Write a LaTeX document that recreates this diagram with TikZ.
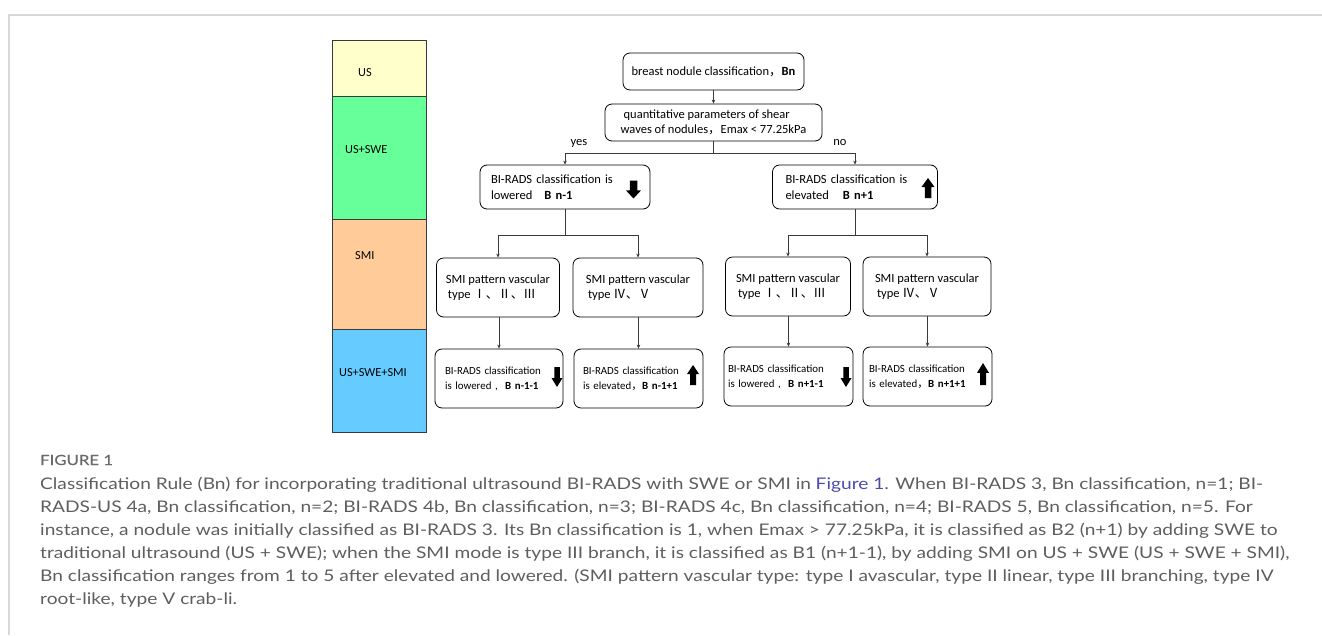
\documentclass[tikz,border=0pt]{standalone}
\usepackage{fontspec}
\setmainfont{Carlito}
\newfontfamily\cjk{Noto Sans CJK SC}
\newfontfamily\capfont{Lato}
\newfontfamily\figfont[FakeBold=0.35]{Lato}
\usetikzlibrary{arrows.meta}
\definecolor{bandus}{HTML}{FFFFCC}
\definecolor{bandswe}{HTML}{66FF99}
\definecolor{bandsmi}{HTML}{FFCC99}
\definecolor{bandall}{HTML}{66CCFF}
\definecolor{capgray}{HTML}{5E5E5E}
\definecolor{figgray}{HTML}{6A6A6A}
\definecolor{figblue}{HTML}{4B4BAA}
\definecolor{framegray}{HTML}{D8D8D8}
\definecolor{conngray}{HTML}{3A3A3A}
\newcommand\dnarrow[4]{% cx cy w h
  \fill (#1-#3*0.25,#2-#4*0.5) -- (#1+#3*0.25,#2-#4*0.5) -- (#1+#3*0.25,#2+#4*0.05)
   -- (#1+#3*0.5,#2+#4*0.05) -- (#1,#2+#4*0.5) -- (#1-#3*0.5,#2+#4*0.05) -- (#1-#3*0.25,#2+#4*0.05) -- cycle;}
\newcommand\uparrowicon[4]{% cx cy w h
  \fill (#1-#3*0.25,#2+#4*0.5) -- (#1+#3*0.25,#2+#4*0.5) -- (#1+#3*0.25,#2-#4*0.05)
   -- (#1+#3*0.5,#2-#4*0.05) -- (#1,#2-#4*0.5) -- (#1-#3*0.5,#2-#4*0.05) -- (#1-#3*0.25,#2-#4*0.05) -- cycle;}
\newcommand\caplineA{Classification Rule (Bn) for incorporating traditional ultrasound BI-RADS with SWE or SMI in {\color{figblue}Figure 1}. When BI-RADS 3, Bn classification, n=1; BI-}
\newcommand\capsize{\capfont\fontsize{16}{23}\selectfont}
\newlength\capnat
\begin{document}
\settowidth\capnat{\capsize\caplineA}
\pgfmathsetmacro\capsx{1223/\capnat}
\begin{tikzpicture}[x=1pt,y=-1pt,
  box/.style={draw=black, line width=0.8pt, rounded corners=7pt, inner ysep=0pt, align=left,
    font=\fontsize{12.5}{15.5}\selectfont},
  smallbox/.style={box, font=\fontsize{10.9}{15}\selectfont},
  conn/.style={draw=conngray, line width=0.7pt, -{Stealth[length=4pt,width=3.5pt]}},
  band/.style={draw=conngray, line width=0.6pt, anchor=north west, minimum width=94pt, inner sep=0pt},
  bandtext/.style={font=\fontsize{12.3}{14}\selectfont, anchor=west, inner sep=0pt},
  lab/.style={font=\fontsize{12.5}{14}\selectfont, inner sep=0pt},
  caption/.style={font=\capsize, text=capgray, anchor=base west, inner sep=0pt}
]
\useasboundingbox (0,0) rectangle (1322,635);
% frame
\draw[framegray, line width=2pt] (9,635) -- (9,14.5) -- (1322,14.5);

% left bands
\node[band, fill=bandus, minimum height=56pt] (b1) at (332,40) {};
\node[band, fill=bandswe, minimum height=123pt] (b2) at (332,96) {};
\node[band, fill=bandsmi, minimum height=110pt] (b3) at (332,219) {};
\node[band, fill=bandall, minimum height=103pt] (b4) at (332,329) {};
\node[bandtext] (t1) at (358,73) {US};
\node[bandtext] (t2) at (345,150) {US+SWE};
\node[bandtext] (t3) at (355,256) {SMI};
\node[bandtext] (t4) at (339,373) {US+SWE+SMI};

% boxes
\node[box, align=center, minimum width=181pt, minimum height=37pt] (top) at (713.5,71.5)
  {breast nodule classification{\cjk ，}\textbf{Bn}};
\node[box, minimum width=217pt, inner xsep=4pt, minimum height=37pt] (q) at (713.5,122.5)
  {\hspace{3pt}quantitative parameters of shear\\waves of nodules{\cjk ，}Emax < 77.25kPa};
\node[box, text width=148pt, inner xsep=11pt, minimum height=44pt] (lb) at (565,187)
  {BI-RADS classification is\\lowered\hspace{12pt}\textbf{B n-1}};
\node[box, text width=139pt, inner xsep=13pt, minimum height=44pt] (rb) at (855,187)
  {BI-RADS classification is\\elevated\hspace{14pt}\textbf{B n+1}};

\node[box, minimum width=123pt, minimum height=59pt] (s1) at (498,287.5)
  {SMI pattern vascular\\\hspace{2pt}type {\cjk Ⅰ、Ⅱ、Ⅲ}};
\node[box, minimum width=130pt, minimum height=59pt] (s2) at (638,287.5)
  {SMI pattern vascular\\\hspace{2pt}type {\cjk Ⅳ、Ⅴ}};
\node[box, minimum width=125pt, minimum height=59pt] (s3) at (788,286.5)
  {SMI pattern vascular\\\hspace{2pt}type {\cjk Ⅰ、Ⅱ、Ⅲ}};
\node[box, minimum width=128pt, minimum height=59pt] (s4) at (927,286.5)
  {SMI pattern vascular\\\hspace{2pt}type {\cjk Ⅳ、Ⅴ}};

\node[smallbox, text width=108pt, inner xsep=10pt, minimum height=59pt] (r1) at (499,378.5)
  {BI-RADS classification\\is lowered , \ \textbf{B n-1-1}};
\node[smallbox, text width=111pt, inner xsep=9pt, minimum height=59pt] (r2) at (638.5,378.5)
  {BI-RADS classification\\is elevated{\cjk ，}\textbf{B n-1+1}};
\node[smallbox, text width=121pt, inner xsep=4pt, minimum height=59pt] (r3) at (788.5,376.5)
  {BI-RADS classification\\is lowered , \ \textbf{B n+1-1}};
\node[smallbox, text width=117pt, inner xsep=6pt, minimum height=59pt] (r4) at (927.5,376.5)
  {BI-RADS classification\\is elevated{\cjk ，}\textbf{B n+1+1}};

% arrow icons
\dnarrow{633.5}{189.5}{15}{18}
\uparrowicon{928}{188}{13}{20}
\dnarrow{557}{377}{11}{20}
\uparrowicon{693}{375}{12}{20}
\dnarrow{846}{377}{11}{20}
\uparrowicon{983}{374}{12}{22}

% connectors
\draw[conn] (top.south) -- (q.north);
\draw[conn] (q.south) -- ++(0,12) -| (lb.north);
\draw[conn] (q.south) -- ++(0,12) -| (rb.north);
\draw[conn] (lb.south) -- ++(0,26) -| (s1.north);
\draw[conn] (lb.south) -- ++(0,26) -| (s2.north);
\draw[conn] (rb.south) -- ++(0,26) -| (s3.north);
\draw[conn] (rb.south) -- ++(0,26) -| (s4.north);
\draw[conn] (r1.north |- s1.south) -- (r1.north);
\draw[conn] (r2.north |- s2.south) -- (r2.north);
\draw[conn] (r3.north |- s3.south) -- (r3.north);
\draw[conn] (r4.north |- s4.south) -- (r4.north);
\node[lab] (yes) at (579,143) {yes};
\node[lab] (no) at (840,143) {no};

% caption
\node[font=\figfont\fontsize{14}{16}\selectfont, text=figgray, anchor=base west, inner sep=0pt] (fig) at (40,465) {\scalebox{\capsx}[1]{FIGURE 1}};
\node[caption] (c1) at (40,489) {\scalebox{\capsx}[1]{\caplineA}};
\node[caption] (c2) at (40,512) {\scalebox{\capsx}[1]{RADS-US 4a, Bn classification, n=2; BI-RADS 4b, Bn classification, n=3; BI-RADS 4c, Bn classification, n=4; BI-RADS 5, Bn classification, n=5. For}};
\node[caption] (c3) at (40,535) {\scalebox{\capsx}[1]{instance, a nodule was initially classified as BI-RADS 3. Its Bn classification is 1, when Emax > 77.25kPa, it is classified as B2 (n+1) by adding SWE to}};
\node[caption] (c4) at (40,558) {\scalebox{\capsx}[1]{traditional ultrasound (US + SWE); when the SMI mode is type III branch, it is classified as B1 (n+1-1), by adding SMI on US + SWE (US + SWE + SMI),}};
\node[caption] (c5) at (40,581) {\scalebox{\capsx}[1]{Bn classification ranges from 1 to 5 after elevated and lowered. (SMI pattern vascular type: type I avascular, type II linear, type III branching, type IV}};
\node[caption] (c6) at (40,604) {\scalebox{\capsx}[1]{root-like, type V crab-li.}};
\end{tikzpicture}
\end{document}
